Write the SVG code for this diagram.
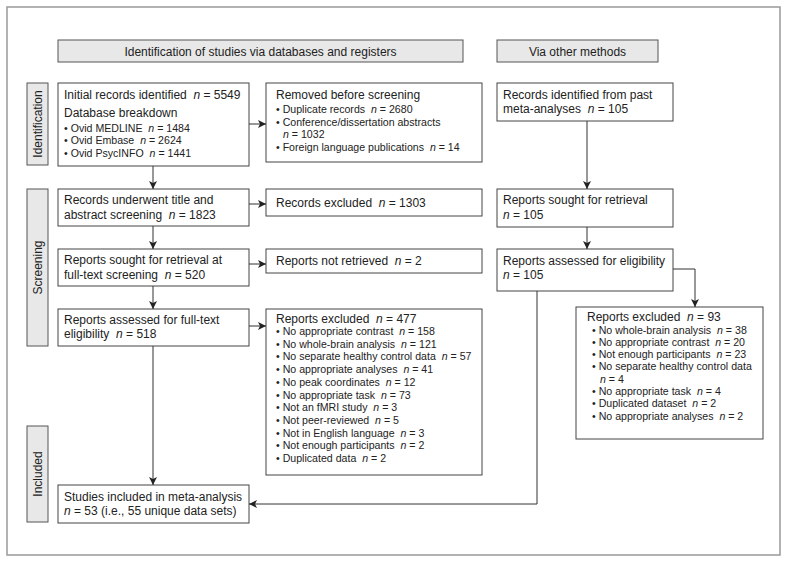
<svg xmlns="http://www.w3.org/2000/svg" width="790" height="563" viewBox="0 0 790 563" xml:space="preserve">
<style>
text{font-family:"Liberation Sans",Arial,sans-serif;fill:#222;white-space:pre}
.m{font-size:12px}
.s{font-size:10.6px}
.h{font-size:12px;text-anchor:middle}
.box{fill:#fff;stroke:#444;stroke-width:1}
.hdr{fill:#e8e8e8;stroke:#555;stroke-width:1}
.side{fill:#e8e8e8;stroke:#555;stroke-width:1}
.frame{fill:#fff;stroke:#999;stroke-width:1.5}
.c{fill:none;stroke:#333;stroke-width:1;marker-end:url(#ah)}
</style>
<defs>
<marker id="ah" markerWidth="8" markerHeight="8" refX="8" refY="4" orient="auto" markerUnits="userSpaceOnUse">
<path d="M0,0 L8,4 L0,8 L2,4 Z" fill="#222"/>
</marker>
</defs>
<rect class="frame" x="7" y="7" width="773" height="548"/>

<g id="hdr-db"><rect class="hdr" x="58" y="40" width="405" height="22"/><text class="h" x="260.5" y="55.5">Identification of studies via databases and registers</text></g>
<g id="hdr-other"><rect class="hdr" x="497" y="40" width="161" height="22"/><text class="h" x="577.5" y="55.5">Via other methods</text></g>

<g id="side-identification"><rect class="side" x="27" y="83" width="21" height="82"/><text class="h" transform="translate(42,124) rotate(-90)">Identification</text></g>
<g id="side-screening"><rect class="side" x="27" y="189" width="21" height="157"/><text class="h" transform="translate(42,267.5) rotate(-90)">Screening</text></g>
<g id="side-included"><rect class="side" x="27" y="426" width="21" height="96"/><text class="h" transform="translate(42,474) rotate(-90)">Included</text></g>

<g id="initial">
<rect class="box" x="58" y="83" width="191" height="83"/>
<text class="m" x="64" y="99">Initial records identified  <tspan font-style="italic">n</tspan> = 5549</text>
<text class="m" x="64" y="117">Database breakdown</text>
<text class="s" x="64" y="132">• Ovid MEDLINE  <tspan font-style="italic">n</tspan> = 1484</text>
<text class="s" x="64" y="144">• Ovid Embase  <tspan font-style="italic">n</tspan> = 2624</text>
<text class="s" x="64" y="156.5">• Ovid PsycINFO  <tspan font-style="italic">n</tspan> = 1441</text>
</g>

<g id="removed">
<rect class="box" x="266" y="83" width="216" height="79"/>
<text class="m" x="276" y="99">Removed before screening</text>
<text class="s" x="276" y="113">• Duplicate records  <tspan font-style="italic">n</tspan> = 2680</text>
<text class="s" x="276" y="125.5">• Conference/dissertation abstracts</text>
<text class="s" x="283" y="137.5"><tspan font-style="italic">n</tspan> = 1032</text>
<text class="s" x="276" y="150.5">• Foreign language publications  <tspan font-style="italic">n</tspan> = 14</text>
</g>

<g id="past">
<rect class="box" x="497" y="83" width="176" height="38"/>
<text class="m" x="503" y="98.5">Records identified from past</text>
<text class="m" x="503" y="113">meta-analyses  <tspan font-style="italic">n</tspan> = 105</text>
</g>

<g id="screened">
<rect class="box" x="58" y="189" width="191" height="37"/>
<text class="m" x="64" y="204">Records underwent title and</text>
<text class="m" x="64" y="218.5">abstract screening  <tspan font-style="italic">n</tspan> = 1823</text>
</g>

<g id="rec-excluded">
<rect class="box" x="266" y="189" width="216" height="27"/>
<text class="m" x="276" y="207">Records excluded  <tspan font-style="italic">n</tspan> = 1303</text>
</g>

<g id="sought-other">
<rect class="box" x="497" y="189" width="176" height="38"/>
<text class="m" x="503" y="204">Reports sought for retrieval</text>
<text class="m" x="503" y="218.5"><tspan font-style="italic">n</tspan> = 105</text>
</g>

<g id="sought">
<rect class="box" x="58" y="249" width="191" height="37"/>
<text class="m" x="64" y="264">Reports sought for retrieval at</text>
<text class="m" x="64" y="278.5">full-text screening  <tspan font-style="italic">n</tspan> = 520</text>
</g>

<g id="not-retrieved">
<rect class="box" x="266" y="249" width="216" height="24"/>
<text class="m" x="276" y="265">Reports not retrieved  <tspan font-style="italic">n</tspan> = 2</text>
</g>

<g id="assessed-other">
<rect class="box" x="497" y="249" width="176" height="42"/>
<text class="m" x="503" y="264.5">Reports assessed for eligibility</text>
<text class="m" x="503" y="279"><tspan font-style="italic">n</tspan> = 105</text>
</g>

<g id="assessed">
<rect class="box" x="58" y="309" width="191" height="37"/>
<text class="m" x="64" y="323.5">Reports assessed for full-text</text>
<text class="m" x="64" y="338">eligibility  <tspan font-style="italic">n</tspan> = 518</text>
</g>

<g id="excluded-477">
<rect class="box" x="266" y="309" width="216" height="166"/>
<text class="m" x="276" y="323">Reports excluded  <tspan font-style="italic">n</tspan> = 477</text>
<text class="s" x="276" y="335">• No appropriate contrast  <tspan font-style="italic">n</tspan> = 158</text>
<text class="s" x="276" y="347.7">• No whole-brain analysis  <tspan font-style="italic">n</tspan> = 121</text>
<text class="s" x="276" y="360.4">• No separate healthy control data  <tspan font-style="italic">n</tspan> = 57</text>
<text class="s" x="276" y="373.1">• No appropriate analyses  <tspan font-style="italic">n</tspan> = 41</text>
<text class="s" x="276" y="385.8">• No peak coordinates  <tspan font-style="italic">n</tspan> = 12</text>
<text class="s" x="276" y="398.5">• No appropriate task  <tspan font-style="italic">n</tspan> = 73</text>
<text class="s" x="276" y="411.2">• Not an fMRI study  <tspan font-style="italic">n</tspan> = 3</text>
<text class="s" x="276" y="423.9">• Not peer-reviewed  <tspan font-style="italic">n</tspan> = 5</text>
<text class="s" x="276" y="436.6">• Not in English language  <tspan font-style="italic">n</tspan> = 3</text>
<text class="s" x="276" y="449.3">• Not enough participants  <tspan font-style="italic">n</tspan> = 2</text>
<text class="s" x="276" y="462">• Duplicated data  <tspan font-style="italic">n</tspan> = 2</text>
</g>

<g id="excluded-93">
<rect class="box" x="576" y="307" width="187" height="132"/>
<text class="m" x="587" y="320.5">Reports excluded  <tspan font-style="italic">n</tspan> = 93</text>
<text class="s" x="592" y="334">• No whole-brain analysis  <tspan font-style="italic">n</tspan> = 38</text>
<text class="s" x="592" y="346">• No appropriate contrast  <tspan font-style="italic">n</tspan> = 20</text>
<text class="s" x="592" y="358">• Not enough participants  <tspan font-style="italic">n</tspan> = 23</text>
<text class="s" x="592" y="370">• No separate healthy control data</text>
<text class="s" x="600" y="382.5"><tspan font-style="italic">n</tspan> = 4</text>
<text class="s" x="592" y="395">• No appropriate task  <tspan font-style="italic">n</tspan> = 4</text>
<text class="s" x="592" y="407">• Duplicated dataset  <tspan font-style="italic">n</tspan> = 2</text>
<text class="s" x="592" y="419.5">• No appropriate analyses  <tspan font-style="italic">n</tspan> = 2</text>
</g>

<g id="included">
<rect class="box" x="58" y="485" width="191" height="38"/>
<text class="m" x="64" y="500.5">Studies included in meta-analysis</text>
<text class="m" x="64" y="515"><tspan font-style="italic">n</tspan> = 53 (i.e., 55 unique data sets)</text>
</g>

<g id="connectors">
<path class="c" d="M153,166 V189"/>
<path class="c" d="M249,124 H266"/>
<path class="c" d="M153,226 V249"/>
<path class="c" d="M249,204 H266"/>
<path class="c" d="M153,286 V309"/>
<path class="c" d="M249,264 H266"/>
<path class="c" d="M249,326 H266"/>
<path class="c" d="M153,346 V485"/>
<path class="c" d="M587,121 V189"/>
<path class="c" d="M587,227 V249"/>
<path class="c" d="M673,269 H695 V307"/>
<path class="c" d="M537,291 V504 H249"/>
</g>
</svg>
